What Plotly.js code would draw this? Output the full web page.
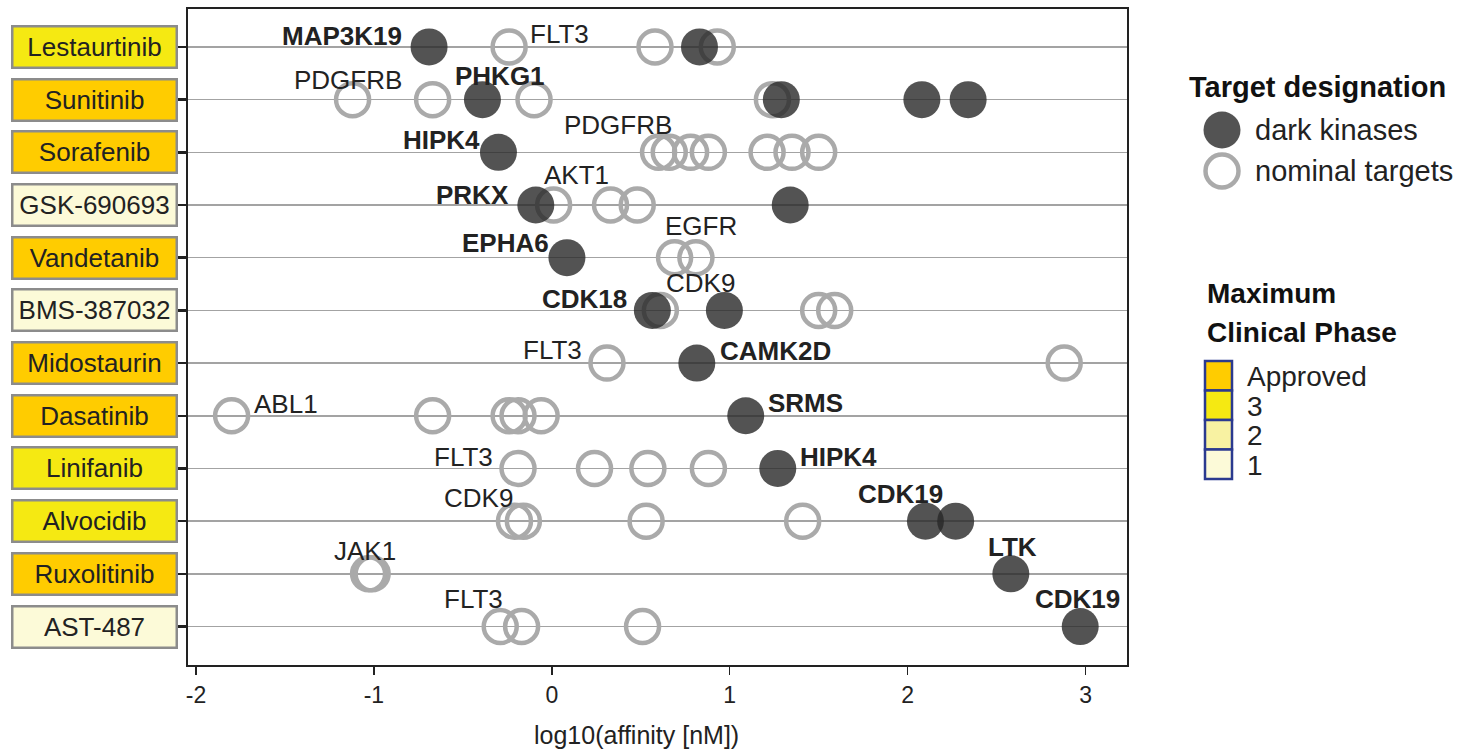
<!DOCTYPE html>
<html>
<head>
<meta charset="utf-8">
<script src="https://cdn.plot.ly/plotly-3.0.1.min.js"></script>
<style>html,body{margin:0;padding:0;background:#fff;}#chart{width:1470px;height:755px;}</style>
</head>
<body>
<div id="chart"></div>
<script>
// ---------------- DATA ----------------
const drugs = ['Lestaurtinib','Sunitinib','Sorafenib','GSK-690693','Vandetanib','BMS-387032',
               'Midostaurin','Dasatinib','Linifanib','Alvocidib','Ruxolitinib','AST-487'];
const maxPhase = ['3','Approved','Approved','1','Approved','1','Approved','Approved','3','3','Approved','1'];
const phaseLevels = ['Approved','3','2','1'];

const darkDrug = ['Lestaurtinib','Lestaurtinib','Sunitinib','Sunitinib','Sunitinib','Sunitinib',
                  'Sorafenib','GSK-690693','GSK-690693','Vandetanib','BMS-387032','BMS-387032',
                  'Midostaurin','Dasatinib','Linifanib','Alvocidib','Alvocidib','Ruxolitinib','AST-487'];
const darkValue = [-0.69, 0.83, -0.39, 1.29, 2.08, 2.34,
                   -0.30, -0.09, 1.34, 0.085, 0.565, 0.97,
                   0.815, 1.09, 1.27, 2.10, 2.27, 2.58, 2.97];

const nominalDrug = ['Lestaurtinib','Lestaurtinib','Lestaurtinib',
                     'Sunitinib','Sunitinib','Sunitinib','Sunitinib',
                     'Sorafenib','Sorafenib','Sorafenib','Sorafenib','Sorafenib','Sorafenib','Sorafenib',
                     'GSK-690693','GSK-690693','GSK-690693',
                     'Vandetanib','Vandetanib',
                     'BMS-387032','BMS-387032','BMS-387032',
                     'Midostaurin','Midostaurin',
                     'Dasatinib','Dasatinib','Dasatinib','Dasatinib','Dasatinib',
                     'Linifanib','Linifanib','Linifanib','Linifanib',
                     'Alvocidib','Alvocidib','Alvocidib','Alvocidib',
                     'Ruxolitinib','Ruxolitinib',
                     'AST-487','AST-487','AST-487'];
const nominalValue = [-0.24, 0.58, 0.93,
                      -1.12, -0.67, -0.10, 1.24,
                      0.60, 0.66, 0.78, 0.88, 1.21, 1.35, 1.50,
                      0.01, 0.33, 0.48,
                      0.69, 0.81,
                      0.61, 1.50, 1.59,
                      0.31, 2.88,
                      -1.80, -0.67, -0.24, -0.19, -0.06,
                      -0.19, 0.24, 0.54, 0.88,
                      -0.21, -0.16, 0.53, 1.41,
                      -1.03, -1.01,
                      -0.29, -0.17, 0.51];

const labelDrug = ['Lestaurtinib','Lestaurtinib','Sunitinib','Sunitinib','Sorafenib','Sorafenib',
                   'GSK-690693','GSK-690693','Vandetanib','Vandetanib','BMS-387032','BMS-387032',
                   'Midostaurin','Midostaurin','Dasatinib','Dasatinib','Linifanib','Linifanib',
                   'Alvocidib','Alvocidib','Ruxolitinib','Ruxolitinib','AST-487','AST-487'];
const labelText = ['MAP3K19','FLT3','PDGFRB','PHKG1','HIPK4','PDGFRB',
                   'PRKX','AKT1','EPHA6','EGFR','CDK18','CDK9',
                   'FLT3','CAMK2D','ABL1','SRMS','FLT3','HIPK4',
                   'CDK9','CDK19','JAK1','LTK','FLT3','CDK19'];
const labelValue = [-0.69, -0.24, -1.12, -0.39, -0.30, 0.60,
                    -0.09, 0.01, 0.085, 0.69, 0.565, 0.61,
                    0.31, 0.815, -1.80, 1.09, -0.19, 1.27,
                    -0.21, 2.10, -1.01, 2.58, -0.29, 2.97];
const labelIsDark = [true,false,false,true,true,false,
                     true,false,true,false,true,false,
                     false,true,false,true,false,true,
                     false,true,false,true,false,true];
const xTickVals = [-2,-1,0,1,2,3];
const xTickText = ['-2','-1','0','1','2','3'];

// ---------------- STYLE / LAYOUT ----------------
const FONT = 'Liberation Sans, Arial, Helvetica, sans-serif';
const TXT = '#222';
const phaseColor = {'Approved':'#FFCC00','3':'#F5E912','2':'#F8F2A2','1':'#FCFAD8'};
// label placement: [xanchor, xshift px, yshift px]
const labelPlace = [['right',-25,11],['left',19,13],['center',-5,20],['center',18,24],['right',-16,12],['center',-41,27],
                    ['right',-25,10],['center',23,30],['right',-16,15],['center',26,32],['right',-23,11],['center',40,27],
                    ['right',-23,13],['left',21,12],['left',20,12],['left',20,13],['right',-23,11],['left',20,11],
                    ['right',1,23],['center',-25,27],['center',-7,23],['center',2,27],['center',-27,28],['center',-3,28]];

const L = 188, R = 1127, T = 9, B = 665, W = 1470, H = 755;
const px = p => (p - L) / (R - L);
const py = p => (B - p) / (B - T);

const traces = [
  {type:'scatter', mode:'markers', x: nominalValue, y: nominalDrug, name:'nominal targets',
   marker:{symbol:'circle-open', size:33, color:'#aaaaaa', line:{width:4.5, color:'#aaaaaa'}},
   hoverinfo:'x+y', showlegend:false},
  {type:'scatter', mode:'markers', x: darkValue, y: darkDrug, name:'dark kinases',
   marker:{symbol:'circle', size:37, color:'rgba(40,40,40,0.8)', line:{width:0}},
   hoverinfo:'x+y', showlegend:false}
];

const annotations = [];
// drug boxes as y tick labels
drugs.forEach((d, i) => {
  annotations.push({xref:'paper', yref:'y', x: px(94), y: d, xanchor:'center', yanchor:'middle',
    text: d, showarrow:false, font:{family:FONT, size:26, color:TXT},
    bgcolor: phaseColor[maxPhase[i]], bordercolor:'#8c8c8c', borderwidth:2.5, borderpad:1,
    width:160, height:37, align:'center'});
});
// point labels
labelText.forEach((t, i) => {
  const pl = labelPlace[i];
  annotations.push({xref:'x', yref:'y', x: labelValue[i], y: labelDrug[i],
    text: labelIsDark[i] ? '<b>' + t + '</b>' : t, showarrow:false,
    xanchor: pl[0], yanchor:'middle', xshift: pl[1], yshift: pl[2],
    font:{family:FONT, size:26, color:TXT}});
});
// axis title
annotations.push({xref:'paper', yref:'paper', x: px(636), y: py(735), xanchor:'center', yanchor:'middle',
  text:'log10(affinity [nM])', showarrow:false, font:{family:FONT, size:25, color:TXT}});
// legend: target designation
annotations.push({xref:'paper', yref:'paper', x: px(1187), y: py(87), xanchor:'left', yanchor:'middle',
  text:'<b>Target designation</b>', showarrow:false, font:{family:FONT, size:29, color:'#111'}});
annotations.push({xref:'paper', yref:'paper', x: px(1253), y: py(130), xanchor:'left', yanchor:'middle',
  text:'dark kinases', showarrow:false, font:{family:FONT, size:29, color:TXT}});
annotations.push({xref:'paper', yref:'paper', x: px(1253), y: py(171), xanchor:'left', yanchor:'middle',
  text:'nominal targets', showarrow:false, font:{family:FONT, size:29, color:TXT}});
// legend: clinical phase
annotations.push({xref:'paper', yref:'paper', x: px(1205), y: py(293), xanchor:'left', yanchor:'middle',
  text:'<b>Maximum</b>', showarrow:false, font:{family:FONT, size:28, color:'#111'}});
annotations.push({xref:'paper', yref:'paper', x: px(1205), y: py(332), xanchor:'left', yanchor:'middle',
  text:'<b>Clinical Phase</b>', showarrow:false, font:{family:FONT, size:28, color:'#111'}});

const shapes = [];
// legend circles
shapes.push({type:'circle', xref:'paper', yref:'paper', xsizemode:'pixel', ysizemode:'pixel',
  xanchor: px(1222), yanchor: py(130), x0:-18.5, x1:18.5, y0:-18.5, y1:18.5,
  fillcolor:'rgba(40,40,40,0.8)', line:{width:0}});
shapes.push({type:'circle', xref:'paper', yref:'paper', xsizemode:'pixel', ysizemode:'pixel',
  xanchor: px(1222), yanchor: py(171), x0:-16.5, x1:16.5, y0:-16.5, y1:16.5,
  fillcolor:'rgba(0,0,0,0)', line:{width:4.5, color:'#aaaaaa'}});
phaseLevels.forEach((p, i) => {
  const top = 361 + i * 29.5, bot = top + 29.5;
  shapes.push({type:'rect', xref:'paper', yref:'paper', x0: px(1205), x1: px(1232), y0: py(bot), y1: py(top),
    fillcolor: phaseColor[p], line:{color:'#2b3a8f', width:2.5}});
  annotations.push({xref:'paper', yref:'paper', x: px(1245), y: py((top + bot) / 2 + 1), xanchor:'left', yanchor:'middle',
    text: p, showarrow:false, font:{family:FONT, size:28, color:TXT}});
});

const layout = {
  width: W, height: H,
  margin:{l:L, r:W - R, t:T, b:H - B, pad:0},
  paper_bgcolor:'#fff', plot_bgcolor:'#fff',
  showlegend:false,
  font:{family:FONT, color:TXT},
  xaxis:{range:[-2.045, 3.233], tickmode:'array', tickvals:xTickVals, ticktext:xTickText,
    showgrid:false, zeroline:false, showline:true, mirror:true, linecolor:'#222', linewidth:2,
    ticks:'outside', ticklen:8, tickwidth:1.5, tickcolor:'#222',
    tickfont:{family:FONT, size:23, color:TXT}},
  yaxis:{type:'category', categoryorder:'array', categoryarray:drugs, range:[11.73, -0.72],
    showticklabels:false, showgrid:true, gridcolor:'#a3a3a3', gridwidth:1.5, zeroline:false,
    showline:true, mirror:true, linecolor:'#222', linewidth:2,
    ticks:'outside', ticklen:8, tickwidth:2.5, tickcolor:'#222'},
  annotations: annotations,
  shapes: shapes
};

Plotly.newPlot('chart', traces, layout, {displayModeBar:false, staticPlot:true});
</script>
</body>
</html>
